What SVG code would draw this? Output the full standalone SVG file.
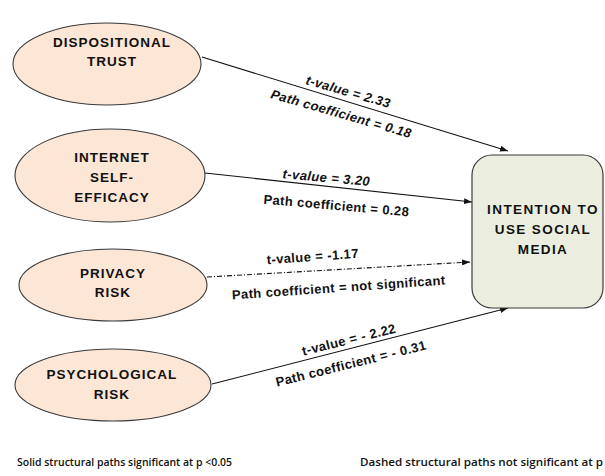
<svg xmlns="http://www.w3.org/2000/svg" width="605" height="476" viewBox="0 0 605 476">
  <defs>
    <marker id="arrow" markerWidth="8" markerHeight="6" refX="8" refY="3" orient="auto" markerUnits="userSpaceOnUse">
      <path d="M0,0 L8,3 L0,6 Z" fill="#111"/>
    </marker>
    <style>
      .node ellipse { fill: #fce6d6; stroke: #3a3a3a; stroke-width: 1.1; }
      .box { fill: #ebeedf; stroke: #3a3a3a; stroke-width: 1.2; }
      .nt { font-family: "Liberation Sans", Arial, sans-serif; font-weight: bold; font-size: 13.5px; letter-spacing: 1px; fill: #111; text-anchor: middle; }
      .lbl { font-family: "Liberation Sans", Arial, sans-serif; font-weight: bold; font-size: 13px; letter-spacing: 0.4px; fill: #111; text-anchor: middle; }
      .it { font-style: italic; }
      .conn { stroke: #111; stroke-width: 1.1; fill: none; }
      .dash { stroke-dasharray: 5 2 1 2; }
      .foot { font-family: "Open Sans", "Liberation Sans", sans-serif; font-weight: 600; font-size: 11px; fill: #111; }
    </style>
  </defs>
  <rect width="605" height="476" fill="#ffffff"/>

  <g id="connectors">
    <line class="conn" x1="202" y1="57" x2="508" y2="151" marker-end="url(#arrow)"/>
    <line class="conn" x1="205" y1="173" x2="472" y2="202" marker-end="url(#arrow)"/>
    <line class="conn dash" x1="207" y1="277" x2="470" y2="262" marker-end="url(#arrow)"/>
    <line class="conn" x1="212" y1="384" x2="508" y2="308" marker-end="url(#arrow)"/>

    <text class="lbl it" transform="translate(347,96) rotate(16)">t-value = 2.33</text>
    <text class="lbl it" transform="translate(340,118) rotate(16)">Path coefficient = 0.18</text>

    <text class="lbl it" transform="translate(326,182) rotate(5)">t-value = 3.20</text>
    <text class="lbl" transform="translate(336,210) rotate(5)">Path coefficient = 0.28</text>

    <text class="lbl" transform="translate(313,261) rotate(-4)">t-value = -1.17</text>
    <text class="lbl" transform="translate(339,292) rotate(-4)">Path coefficient = not significant</text>

    <text class="lbl" transform="translate(350,344) rotate(-14)">t-value = - 2.22</text>
    <text class="lbl" transform="translate(352,368) rotate(-14)">Path coefficient = - 0.31</text>
  </g>

  <g id="dispositional-trust" class="node">
    <ellipse cx="107" cy="64" rx="94" ry="41"/>
    <text class="nt" x="112" y="47">DISPOSITIONAL</text>
    <text class="nt" x="112" y="65.5">TRUST</text>
  </g>

  <g id="internet-self-efficacy" class="node">
    <ellipse cx="110" cy="175.5" rx="95" ry="46.5"/>
    <text class="nt" x="112" y="162">INTERNET</text>
    <text class="nt" x="112" y="182">SELF-</text>
    <text class="nt" x="112" y="202">EFFICACY</text>
  </g>

  <g id="privacy-risk" class="node">
    <ellipse cx="113" cy="285" rx="94" ry="36"/>
    <text class="nt" x="113" y="278">PRIVACY</text>
    <text class="nt" x="113" y="297">RISK</text>
  </g>

  <g id="psychological-risk" class="node">
    <ellipse cx="113" cy="385" rx="98" ry="36"/>
    <text class="nt" x="112" y="379">PSYCHOLOGICAL</text>
    <text class="nt" x="112" y="399">RISK</text>
  </g>

  <g id="intention-to-use-social-media">
    <rect class="box" x="472" y="155" width="131" height="153" rx="20" ry="20"/>
    <text class="nt" x="543" y="214" style="letter-spacing:1.4px">INTENTION TO</text>
    <text class="nt" x="543" y="234" style="letter-spacing:1.4px">USE SOCIAL</text>
    <text class="nt" x="543" y="254" style="letter-spacing:1.4px">MEDIA</text>
  </g>

  <g id="legend">
    <text class="foot" x="17" y="466" textLength="215" lengthAdjust="spacingAndGlyphs">Solid structural paths significant at p &lt;0.05</text>
    <text class="foot" x="360" y="466" textLength="243" lengthAdjust="spacingAndGlyphs">Dashed structural paths not significant at p</text>
  </g>
</svg>
